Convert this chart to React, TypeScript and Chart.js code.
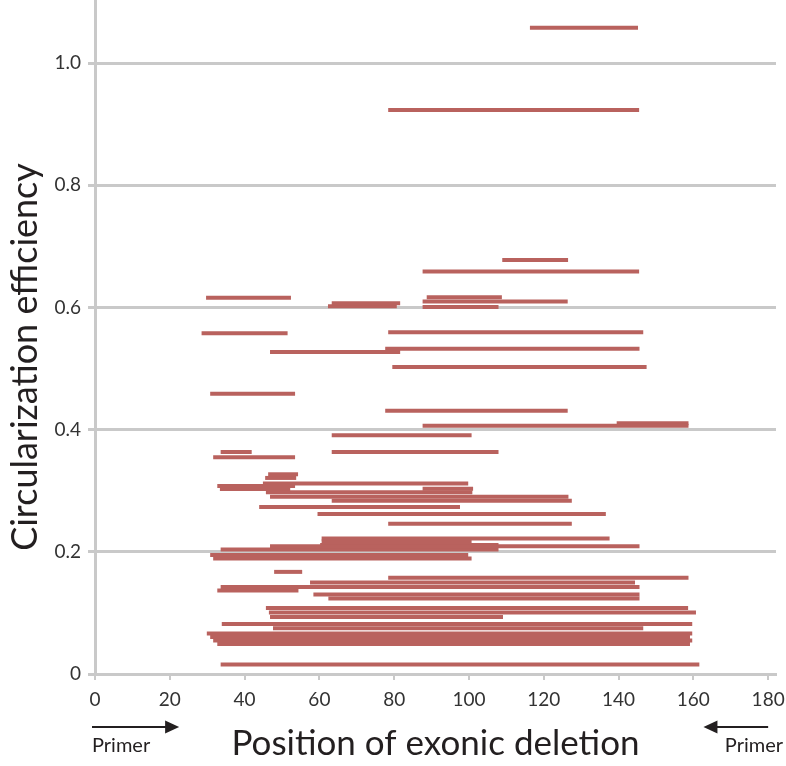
import React, { useEffect, useRef } from "react";
import { Chart, registerables } from "chart.js";

Chart.register(...registerables);

// Each deletion: start position, end position, circularization efficiency
const segStart = [
  116.3, 78.4, 108.9, 87.6, 29.7, 63.3, 62.3, 88.7, 87.6, 87.6,
  28.5, 78.4, 46.8, 77.6, 79.5, 30.8, 77.6, 87.6, 139.5, 63.3,
  33.6, 63.3, 31.6, 46.3, 45.5, 44.9, 32.7, 33.4, 87.6, 45.7,
  46.8, 63.3, 43.9, 59.5, 78.4, 60.6, 60.6, 46.8, 60.2, 33.6,
  30.8, 31.6, 47.9, 78.4, 57.5, 33.6, 32.7, 58.4, 62.4, 45.7,
  46.5, 46.8, 33.9, 47.6, 29.9, 30.8, 31.6, 32.7, 33.6,
];
const segEnd = [
  145.2, 145.5, 126.5, 145.5, 52.4, 81.6, 80.7, 108.8, 126.4, 107.9,
  51.5, 146.6, 81.6, 145.6, 147.5, 53.5, 126.4, 158.7, 158.7, 100.7,
  41.9, 107.9, 53.5, 54.3, 53.8, 99.8, 53.5, 52.2, 101.1, 100.9,
  126.6, 127.5, 97.6, 136.6, 127.5, 137.6, 100.7, 145.6, 107.9, 107.9,
  99.8, 100.7, 55.4, 158.7, 144.4, 145.6, 54.4, 145.6, 145.6, 158.6,
  160.7, 109.1, 159.7, 146.6, 159.7, 159.1, 159.7, 159.1, 161.6,
];
const segEff = [
  1.058, 0.9235, 0.678, 0.659, 0.616, 0.607, 0.602, 0.617, 0.61, 0.601,
  0.558, 0.5595, 0.527, 0.5325, 0.5026, 0.459, 0.431, 0.4065, 0.4106, 0.391,
  0.3635, 0.3635, 0.3547, 0.327, 0.321, 0.3117, 0.3076, 0.3027, 0.3035, 0.2977,
  0.2904, 0.2838, 0.2735, 0.2618, 0.2462, 0.2217, 0.2168, 0.2091, 0.211, 0.2037,
  0.1947, 0.189, 0.1672, 0.1574, 0.1497, 0.1423, 0.1366, 0.1301, 0.1235, 0.108,
  0.1006, 0.0933, 0.0818, 0.0748, 0.0663, 0.0605, 0.0548, 0.0491, 0.0155,
];

const xTickValues = [0, 20, 40, 60, 80, 100, 120, 140, 160, 180];
const yTickValues = [0, 0.2, 0.4, 0.6, 0.8, 1.0];
const xTitle = "Position of exonic deletion";
const yTitle = "Circularization efficiency";
const primerLabel = "Primer";

const BAR = "#b9625e";
const GRID = "#c9c9c9";
const INK = "#231f20";
const FONT = "Lato, 'Open Sans', sans-serif";

const annotationsPlugin = {
  id: "annotations",
  afterDraw(chart: any) {
    const { ctx, scales } = chart;
    const x = scales.x;
    const y = scales.y;
    ctx.save();
    // y-axis title, rotated
    ctx.fillStyle = INK;
    ctx.font = `36px ${FONT}`;
    ctx.textAlign = "center";
    ctx.textBaseline = "middle";
    ctx.translate(25, (y.top + y.bottom) / 2 + 20);
    ctx.rotate(-Math.PI / 2);
    ctx.fillText(yTitle, 0, 0);
    ctx.restore();

    ctx.save();
    const y0 = 727;
    ctx.strokeStyle = INK;
    ctx.fillStyle = INK;
    ctx.lineWidth = 2;
    // left primer arrow (pointing right)
    const l0 = x.getPixelForValue(-0.8);
    const l1 = x.getPixelForValue(22.5);
    ctx.beginPath();
    ctx.moveTo(l0, y0);
    ctx.lineTo(l1 - 10, y0);
    ctx.stroke();
    ctx.beginPath();
    ctx.moveTo(l1, y0);
    ctx.lineTo(l1 - 14, y0 - 6.5);
    ctx.lineTo(l1 - 14, y0 + 6.5);
    ctx.closePath();
    ctx.fill();
    // right primer arrow (pointing left)
    const r0 = x.getPixelForValue(180);
    const r1 = x.getPixelForValue(162.7);
    ctx.beginPath();
    ctx.moveTo(r0, y0);
    ctx.lineTo(r1 + 10, y0);
    ctx.stroke();
    ctx.beginPath();
    ctx.moveTo(r1, y0);
    ctx.lineTo(r1 + 14, y0 - 6.5);
    ctx.lineTo(r1 + 14, y0 + 6.5);
    ctx.closePath();
    ctx.fill();
    ctx.font = `20px ${FONT}`;
    ctx.textBaseline = "alphabetic";
    ctx.textAlign = "left";
    ctx.fillText(primerLabel, l0, 752);
    ctx.textAlign = "right";
    ctx.fillText(primerLabel, 783, 752);
    ctx.restore();
  },
};

export default function App() {
  const ref = useRef<HTMLCanvasElement | null>(null);

  useEffect(() => {
    document.body.style.margin = "0";
    const canvas = ref.current;
    if (!canvas) return;
    const datasets = segStart.map((s, i) => ({
      data: [
        { x: s, y: segEff[i] },
        { x: segEnd[i], y: segEff[i] },
      ],
      borderColor: BAR,
      backgroundColor: BAR,
      borderWidth: 4,
      borderCapStyle: "butt" as const,
      pointRadius: 0,
      pointHoverRadius: 0,
      showLine: true,
    }));
    const chart = new Chart(canvas, {
      type: "scatter",
      data: { datasets },
      options: {
        animation: false,
        responsive: false,
        events: [],
        layout: { padding: { top: 0, right: 10, bottom: 0, left: 0 } },
        plugins: {
          legend: { display: false },
          tooltip: { enabled: false },
        },
        scales: {
          x: {
            type: "linear",
            min: 0,
            max: 182.1,
            afterBuildTicks: (s: any) => {
              s.ticks = xTickValues.map((v) => ({ value: v }));
            },
            afterFit: (s: any) => {
              s.height = 92;
              s.paddingLeft = 0;
              s.paddingRight = 0;
            },
            ticks: {
              font: { family: FONT, size: 19 },
              color: "#333333",
              padding: 8,
              maxRotation: 0,
              autoSkip: false,
              callback: (v: any) => String(v),
            },
            grid: {
              drawOnChartArea: false,
              drawTicks: true,
              tickLength: 6,
              color: GRID,
              lineWidth: 2,
            },
            border: { display: true, color: GRID, width: 3 },
            title: {
              display: true,
              text: xTitle,
              font: { family: FONT, size: 35 },
              color: INK,
              padding: { top: 0, bottom: 1 },
            },
          },
          y: {
            type: "linear",
            min: 0,
            max: 1.1035,
            afterBuildTicks: (s: any) => {
              s.ticks = yTickValues.map((v) => ({ value: v }));
            },
            afterFit: (s: any) => {
              s.width = 95;
              s.paddingTop = 0;
              s.paddingBottom = 0;
            },
            ticks: {
              font: { family: FONT, size: 19 },
              color: "#333333",
              padding: 7,
              callback: (v: any) => (Number(v) === 0 ? "0" : Number(v).toFixed(1)),
            },
            grid: {
              color: GRID,
              lineWidth: 3,
              drawTicks: true,
              tickLength: 7,
            },
            border: { display: true, color: GRID, width: 3 },
            title: { display: false },
          },
        },
      },
      plugins: [annotationsPlugin],
    });
    return () => chart.destroy();
  }, []);

  return (
    <div style={{ width: 786, height: 766 }}>
      <canvas ref={ref} width={786} height={766} style={{ display: "block" }} />
    </div>
  );
}
